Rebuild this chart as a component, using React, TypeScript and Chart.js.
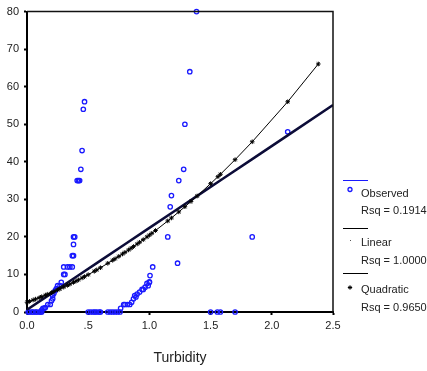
import React, { useEffect, useRef } from 'react';
import { Chart, registerables } from 'chart.js';

Chart.register(...registerables);

// Observed values (Turbidity vs dependent)
const obsX = [
  0.01, 0.02, 0.04, 0.05, 0.07, 0.08, 0.10, 0.11, 0.12,
  0.12, 0.13, 0.14, 0.15, 0.17, 0.19, 0.20, 0.21, 0.21, 0.22, 0.23, 0.24, 0.25, 0.27, 0.28,
  0.30, 0.30, 0.31, 0.33, 0.35, 0.37, 0.37, 0.38, 0.38, 0.38, 0.39,
  0.41, 0.42, 0.43, 0.44, 0.45, 0.46, 0.47,
  0.50, 0.52, 0.54, 0.555, 0.57, 0.59, 0.60, 0.66, 0.68, 0.70, 0.72, 0.74, 0.76,
  0.765, 0.79, 0.80, 0.82, 0.84, 0.855, 0.87, 0.88, 0.89, 0.90, 0.92, 0.94, 0.95, 0.965, 0.98, 0.99, 1.0, 1.0, 1.005, 1.027,
  1.15, 1.17, 1.18, 1.23, 1.24, 1.28, 1.29, 1.33, 1.385,
  1.50, 1.555, 1.58, 1.70, 1.84, 2.13,
];
const obsY = [
  0, 0, 0, 0, 0, 0, 0, 0, 0,
  0.5, 1, 1, 1.2, 2, 2, 3, 3.5, 4.4, 5, 5.7, 6.2, 7, 7, 7.9,
  10, 12, 10, 12, 12, 12, 15, 15, 18, 20, 20,
  35, 35, 35, 38, 43, 54, 56,
  0, 0, 0, 0, 0, 0, 0, 0, 0, 0, 0, 0, 0,
  1, 2, 2, 2, 2, 2.6, 3.5, 4.4, 4, 4.8, 5.3, 6, 6, 6.6, 7.6, 7, 7.9, 8, 9.7, 12,
  20, 28, 31, 13, 35, 38, 50, 64, 80,
  0, 0, 0, 0, 20, 48,
];

// Quadratic fitted values
const quadX = [
  0, 0.02, 0.05, 0.07, 0.1, 0.12, 0.15, 0.17, 0.2, 0.22, 0.25, 0.27, 0.3, 0.33, 0.35, 0.38, 0.4, 0.42,
  0.45, 0.47, 0.5, 0.55, 0.57, 0.6, 0.66, 0.7, 0.72, 0.75, 0.78, 0.8, 0.83, 0.85, 0.87,
  0.9, 0.92, 0.95, 0.98, 1.0, 1.02, 1.05, 1.15, 1.18, 1.24, 1.29, 1.34, 1.39, 1.5, 1.56, 1.58, 1.7, 1.84, 2.13, 2.38,
];
const quadY = [
  2.6, 2.83, 3.19, 3.44, 3.81, 4.07, 4.47, 4.74, 5.16, 5.44, 5.87, 6.17, 6.62, 7.09, 7.41, 7.89, 8.22, 8.55,
  9.07, 9.41, 9.94, 10.85, 11.22, 11.79, 12.97, 13.77, 14.18, 14.81, 15.45, 15.88, 16.53, 16.98, 17.43,
  18.11, 18.57, 19.27, 19.99, 20.47, 20.96, 21.7, 24.25, 25.04, 26.66, 28.04, 29.45, 30.89, 34.18, 36.04, 36.67, 40.56, 45.33, 55.99, 66.05,
];

// Linear fitted values
const linX = [0, 0.2, 0.4, 0.6, 0.8, 1.0, 1.2, 1.4, 1.6, 1.84, 2.13, 2.5];
const linY = [0.6, 4.96, 9.32, 13.68, 18.04, 22.4, 26.76, 31.12, 35.48, 40.71, 47.03, 55.1];

const xTicks = [0, 0.5, 1, 1.5, 2, 2.5];
const xTickLabels = ['0.0', '.5', '1.0', '1.5', '2.0', '2.5'];
const yMin = 0;
const yMax = 80;
const yStep = 10;

const legendNames = ['Observed', 'Linear', 'Quadratic'];
const legendRsq = ['Rsq = 0.1914', 'Rsq = 1.0000', 'Rsq = 0.9650'];
const xTitle = 'Turbidity';

const BLUE = 'rgb(25,25,255)';
const FONT = '"Liberation Sans", Arial, sans-serif';
const TEXT = '#222';

const overlayPlugin = {
  id: 'overlay',
  afterDraw(chart: any) {
    const ctx = chart.ctx as CanvasRenderingContext2D;
    const a = chart.chartArea;
    ctx.save();
    // frame top & right
    ctx.strokeStyle = '#111';
    ctx.lineWidth = 1.5;
    ctx.beginPath();
    ctx.moveTo(a.left, a.top);
    ctx.lineTo(a.right, a.top);
    ctx.lineTo(a.right, a.bottom);
    ctx.stroke();

    // x title
    ctx.fillStyle = TEXT;
    ctx.font = `14px ${FONT}`;
    ctx.textAlign = 'center';
    ctx.textBaseline = 'middle';
    ctx.fillText(xTitle, (a.left + a.right) / 2, 358);

    // legend
    const lx = 343;
    const tx = 361;
    const lineYs = [180.5, 228.5, 273.5];
    const nameYs = [194, 243, 290];
    const rsqYs = [211, 261, 308];
    const colors = [BLUE, '#000', '#000'];
    ctx.font = `11px ${FONT}`;
    ctx.textAlign = 'left';
    for (let i = 0; i < 3; i++) {
      ctx.strokeStyle = colors[i];
      ctx.lineWidth = 1;
      ctx.beginPath();
      ctx.moveTo(lx, lineYs[i]);
      ctx.lineTo(lx + 25, lineYs[i]);
      ctx.stroke();
      ctx.fillStyle = TEXT;
      ctx.fillText(legendNames[i], tx, nameYs[i]);
      ctx.fillText(legendRsq[i], tx, rsqYs[i]);
    }
    // markers
    ctx.strokeStyle = BLUE;
    ctx.lineWidth = 1.3;
    ctx.beginPath();
    ctx.arc(350, 189.5, 2, 0, Math.PI * 2);
    ctx.stroke();
    ctx.fillStyle = '#555';
    ctx.fillRect(350, 240, 1, 1);
    ctx.strokeStyle = '#000';
    ctx.lineWidth = 1;
    ctx.beginPath();
    const sx = 350, sy = 287.5, r = 2.2;
    for (let k = 0; k < 4; k++) {
      const ang = (k * Math.PI) / 4;
      ctx.moveTo(sx - r * Math.cos(ang), sy - r * Math.sin(ang));
      ctx.lineTo(sx + r * Math.cos(ang), sy + r * Math.sin(ang));
    }
    ctx.stroke();
    ctx.restore();
  },
};

export default function App() {
  const ref = useRef<HTMLCanvasElement | null>(null);

  useEffect(() => {
    if (!ref.current) return;
    const chart = new Chart(ref.current, {
      type: 'scatter',
      data: {
        datasets: [
          {
            label: 'Quadratic',
            data: quadX.map((x, i) => ({ x, y: quadY[i] })),
            showLine: true,
            borderColor: '#000',
            backgroundColor: '#000',
            borderWidth: 1,
            pointStyle: 'star',
            pointRadius: 2.3,
            pointBorderWidth: 1,
            pointBorderColor: '#000',
            order: 1,
            clip: false,
          } as any,
          {
            label: 'Linear',
            data: linX.map((x, i) => ({ x, y: linY[i] })),
            showLine: true,
            borderColor: '#0c0c38',
            borderWidth: 2.5,
            pointRadius: 0,
            order: 2,
          },
          {
            label: 'Observed',
            data: obsX.map((x, i) => ({ x, y: obsY[i] })),
            showLine: false,
            pointStyle: 'circle',
            pointRadius: 2.2,
            pointBorderWidth: 1.3,
            pointBorderColor: BLUE,
            pointBackgroundColor: 'rgba(0,0,0,0)',
            order: 3,
            clip: false,
          } as any,
        ],
      },
      options: {
        animation: false,
        responsive: false,
        maintainAspectRatio: false,
        devicePixelRatio: 1,
        layout: { padding: { top: 10, right: 94, left: 0, bottom: 0 } },
        plugins: {
          legend: { display: false },
          tooltip: { enabled: false },
          title: { display: false },
        },
        scales: {
          x: {
            type: 'linear',
            min: 0,
            max: 2.5,
            afterFit: (s: any) => {
              s.height = 59;
            },
            afterBuildTicks: (s: any) => {
              s.ticks = xTicks.map((v) => ({ value: v }));
            },
            ticks: {
              padding: 4,
              color: TEXT,
              font: { family: FONT, size: 11 },
              maxRotation: 0,
              autoSkip: false,
              callback: (v: any) => {
                const i = xTicks.indexOf(Number(v));
                return i >= 0 ? xTickLabels[i] : '';
              },
            },
            grid: {
              drawOnChartArea: false,
              drawTicks: true,
              tickLength: 3,
              tickWidth: 2,
              tickColor: '#000',
            },
            border: { display: true, color: '#000', width: 2 },
          },
          y: {
            type: 'linear',
            min: yMin,
            max: yMax,
            afterFit: (s: any) => {
              s.width = 27;
            },
            ticks: {
              stepSize: yStep,
              padding: 5,
              color: TEXT,
              font: { family: FONT, size: 11 },
            },
            grid: {
              drawOnChartArea: false,
              drawTicks: true,
              tickLength: 3,
              tickWidth: 2,
              tickColor: '#000',
            },
            border: { display: true, color: '#000', width: 2 },
          },
        },
      },
      plugins: [overlayPlugin],
    });
    return () => chart.destroy();
  }, []);

  return (
    <div style={{ position: 'fixed', left: 0, top: 0, width: 427, height: 371, background: '#fff' }}>
      <canvas ref={ref} width={427} height={371} style={{ width: 427, height: 371 }} />
    </div>
  );
}
